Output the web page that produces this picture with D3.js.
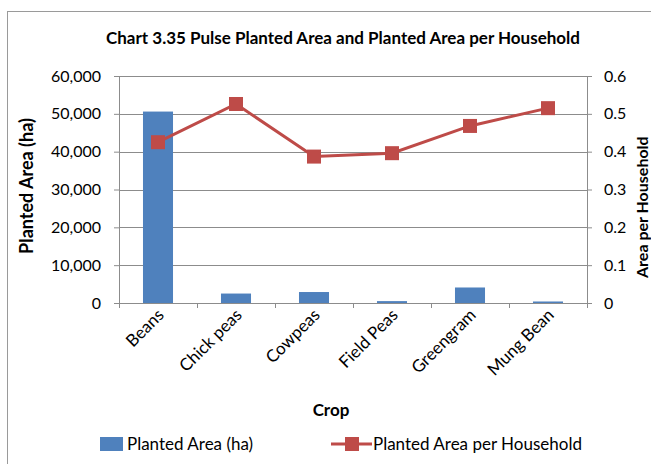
<!DOCTYPE html>
<html>
<head>
<meta charset="utf-8">
<script src="https://cdn.jsdelivr.net/npm/d3@7"></script>
<style>
  body { margin: 0; background: #fff; }
  text { font-family: Lato, "Open Sans", sans-serif; fill: #000; }
</style>
</head>
<body>
<div id="chart"></div>
<script>
const crops = ["Beans", "Chick peas", "Cowpeas", "Field Peas", "Greengram", "Mung Bean"];
const plantedArea = [50600, 2500, 2900, 500, 4100, 400];
const areaPerHousehold = [0.425, 0.526, 0.387, 0.396, 0.468, 0.515];
const leftTicks = [0, 10000, 20000, 30000, 40000, 50000, 60000];
const rightTicks = [0, 0.1, 0.2, 0.3, 0.4, 0.5, 0.6];

const width = 651, height = 464;
const margin = { top: 76, right: 64, bottom: 161, left: 119 };
const graphWidth = width - margin.left - margin.right;
const graphHeight = height - margin.top - margin.bottom;

const barColor = "#4f81bd";
const lineColor = "#be4b48";
const gridColor = "#8c8c8c";

const svg = d3.select("#chart").append("svg")
    .attr("width", width)
    .attr("height", height);

// outer frame
svg.append("rect")
    .attr("x", 7.5).attr("y", 11.5)
    .attr("width", 660).attr("height", 470)
    .attr("fill", "none")
    .attr("stroke", "#9a9a9a");

const graph = svg.append("g")
    .attr("transform", `translate(${margin.left},${margin.top})`);

const x = d3.scaleBand()
    .domain(crops)
    .range([0, graphWidth])
    .paddingInner(0.615)
    .paddingOuter(0.3075);

const y = d3.scaleLinear().domain([0, 60000]).range([graphHeight, 0]);
const y2 = d3.scaleLinear().domain([0, 0.6]).range([graphHeight, 0]);

// gridlines
graph.selectAll("line.grid")
    .data(leftTicks.slice(1))
    .enter()
    .append("line")
    .attr("class", "grid")
    .attr("x1", 0).attr("x2", graphWidth)
    .attr("y1", d => Math.round(y(d)) + 0.5)
    .attr("y2", d => Math.round(y(d)) + 0.5)
    .attr("stroke", gridColor);

// bars
graph.selectAll("rect.bar")
    .data(plantedArea)
    .enter()
    .append("rect")
    .attr("class", "bar")
    .attr("x", (d, i) => x(crops[i]))
    .attr("y", d => y(d))
    .attr("width", x.bandwidth())
    .attr("height", d => graphHeight - y(d))
    .attr("fill", barColor);

// left axis
const leftAxis = d3.axisLeft(y)
    .tickValues(leftTicks)
    .tickSize(5)
    .tickPadding(13)
    .tickFormat(d3.format(","));
const gLeft = graph.append("g").call(leftAxis);
gLeft.select(".domain").attr("stroke", gridColor).attr("d", `M0.5,0V${graphHeight}`);
gLeft.selectAll(".tick line").attr("stroke", gridColor);
gLeft.selectAll("text").style("font-size", "16px").style("font-family", "Lato");

// right axis
const rightAxis = d3.axisRight(y2)
    .tickValues(rightTicks)
    .tickSize(5)
    .tickPadding(12)
    .tickFormat(d => d === 0 ? "0" : d3.format(".1f")(d));
const gRight = graph.append("g")
    .attr("transform", `translate(${graphWidth},0)`)
    .call(rightAxis);
gRight.select(".domain").attr("stroke", gridColor).attr("d", `M0.5,0V${graphHeight}`);
gRight.selectAll(".tick line").attr("stroke", gridColor);
gRight.selectAll("text").style("font-size", "16px").style("font-family", "Lato");

// bottom axis line and ticks at category boundaries
graph.append("line")
    .attr("x1", -5).attr("x2", graphWidth + 5)
    .attr("y1", graphHeight + 0.5).attr("y2", graphHeight + 0.5)
    .attr("stroke", gridColor);
graph.selectAll("line.xtick")
    .data(d3.range(crops.length + 1))
    .enter()
    .append("line")
    .attr("class", "xtick")
    .attr("x1", i => Math.round(i * x.step()) + 0.5)
    .attr("x2", i => Math.round(i * x.step()) + 0.5)
    .attr("y1", graphHeight).attr("y2", graphHeight + 5)
    .attr("stroke", gridColor);

// x labels
graph.selectAll("text.xlabel")
    .data(crops)
    .enter()
    .append("text")
    .attr("class", "xlabel")
    .attr("text-anchor", "end")
    .attr("transform", d => `translate(${x(d) + x.bandwidth() / 2 + 7},${graphHeight + 13}) rotate(-45)`)
    .style("font-size", "17px")
    .text(d => d);

// line series
const line = d3.line()
    .x((d, i) => x(crops[i]) + x.bandwidth() / 2)
    .y(d => y2(d));

graph.append("path")
    .datum(areaPerHousehold)
    .attr("d", line)
    .attr("fill", "none")
    .attr("stroke", lineColor)
    .attr("stroke-width", 3);

const mk = 14;
graph.selectAll("rect.marker")
    .data(areaPerHousehold)
    .enter()
    .append("rect")
    .attr("class", "marker")
    .attr("x", (d, i) => x(crops[i]) + x.bandwidth() / 2 - mk / 2)
    .attr("y", d => y2(d) - mk / 2)
    .attr("width", mk).attr("height", mk)
    .attr("fill", lineColor);

// title
svg.append("text")
    .attr("x", 343)
    .attr("y", 44)
    .attr("text-anchor", "middle")
    .style("font-size", "17px")
    .style("font-weight", "bold")
    .text("Chart 3.35 Pulse Planted Area and Planted Area per Household");

// axis titles
svg.append("text")
    .attr("transform", `translate(33,186) rotate(-90)`)
    .attr("text-anchor", "middle")
    .style("font-size", "18px")
    .style("font-weight", "bold")
    .text("Planted Area (ha)");

svg.append("text")
    .attr("transform", `translate(648,278) rotate(-90)`)
    .attr("text-anchor", "start")
    .style("font-size", "16px")
    .style("font-weight", "bold")
    .text("Area per Household");

svg.append("text")
    .attr("x", 331)
    .attr("y", 416)
    .attr("text-anchor", "middle")
    .style("font-size", "17px")
    .style("font-weight", "bold")
    .text("Crop");

// legend
const legend = svg.append("g");
legend.append("rect")
    .attr("x", 100).attr("y", 437)
    .attr("width", 23).attr("height", 14)
    .attr("fill", barColor);
legend.append("text")
    .attr("x", 127).attr("y", 450)
    .style("font-size", "17px")
    .text("Planted Area (ha)");

legend.append("line")
    .attr("x1", 331).attr("x2", 372)
    .attr("y1", 444).attr("y2", 444)
    .attr("stroke", lineColor)
    .attr("stroke-width", 3);
legend.append("rect")
    .attr("x", 345).attr("y", 437)
    .attr("width", mk).attr("height", mk)
    .attr("fill", lineColor);
legend.append("text")
    .attr("x", 373).attr("y", 450)
    .style("font-size", "17px")
    .text("Planted Area per Household");
</script>
</body>
</html>
